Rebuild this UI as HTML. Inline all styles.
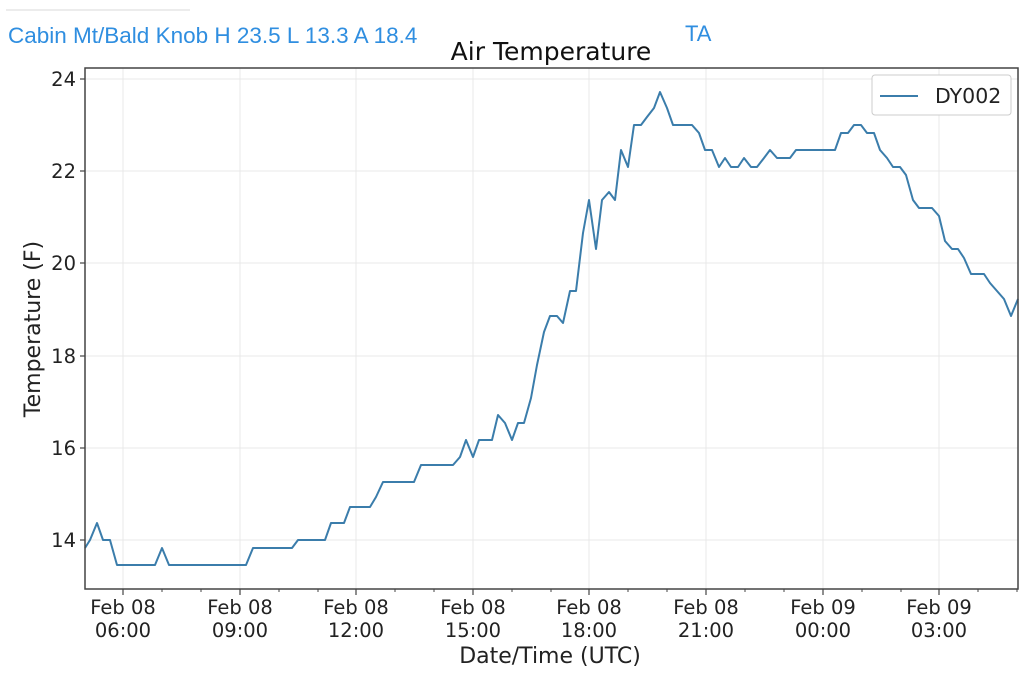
<!DOCTYPE html>
<html><head><style>
body{margin:0;background:#fff;width:1024px;height:682px;overflow:hidden;font-family:"DejaVu Sans","Liberation Sans",sans-serif}
</style></head><body>
<svg width="1024" height="682" xmlns="http://www.w3.org/2000/svg" font-family="DejaVu Sans, Liberation Sans, sans-serif">
<line x1="6" y1="10" x2="190" y2="10" stroke="#e6e6e6" stroke-width="1.5"/>
<text x="8" y="43" font-size="22.5" fill="#2f8ee0" font-family="Liberation Sans, sans-serif">Cabin Mt/Bald Knob H 23.5 L 13.3 A 18.4</text>
<text x="685" y="41" font-size="22" fill="#2f8ee0" font-family="Liberation Sans, sans-serif">TA</text>
<text x="551" y="60" font-size="25" text-anchor="middle" fill="#111">Air Temperature</text>
<g stroke="#e8e8e8" stroke-width="1">
<line x1="85" y1="79" x2="1018" y2="79"/><line x1="85" y1="171" x2="1018" y2="171"/><line x1="85" y1="263" x2="1018" y2="263"/><line x1="85" y1="356" x2="1018" y2="356"/><line x1="85" y1="448" x2="1018" y2="448"/><line x1="85" y1="540" x2="1018" y2="540"/>
<line x1="123" y1="68" x2="123" y2="589"/><line x1="240" y1="68" x2="240" y2="589"/><line x1="356" y1="68" x2="356" y2="589"/><line x1="473" y1="68" x2="473" y2="589"/><line x1="589" y1="68" x2="589" y2="589"/><line x1="706" y1="68" x2="706" y2="589"/><line x1="823" y1="68" x2="823" y2="589"/><line x1="939" y1="68" x2="939" y2="589"/>
</g>
<polyline fill="none" stroke="#3b7dab" stroke-width="2" stroke-linejoin="round" points="85,548 90,540 97,523 103,540 110,540 117,565 155,565 162,548 169,565 246,565 253,548 292,548 298,540 325,540 331,523 344,523 350,507 370,507 376,497 383,482 414,482 421,465 453,465 460,457 466,440 473,457 479,440 492,440 498,415 505,423 512,440 518,423 524,423 531,398 537,365 544,332 550,316 557,316 563,323 570,291 576,291 583,233 589,200 596,249 602,200 609,192 615,200 621,150 628,167 634,125 641,125 647,117 654,108 660,92 667,108 673,125 692,125 699,133 705,150 712,150 719,167 725,158 731,167 738,167 744,158 751,167 757,167 764,158 770,150 777,158 790,158 796,150 835,150 841,133 848,133 854,125 861,125 867,133 874,133 880,150 887,158 893,167 900,167 906,175 913,200 919,208 932,208 939,216 945,241 952,249 958,249 964,258 971,274 984,274 990,283 997,291 1004,299 1011,316 1018,299"/>
<rect x="85" y="68" width="933" height="521" fill="none" stroke="#444" stroke-width="1.5"/>
<g stroke="#444" stroke-width="1.2">
<line x1="80" y1="79" x2="85" y2="79"/><line x1="80" y1="171" x2="85" y2="171"/><line x1="80" y1="263" x2="85" y2="263"/><line x1="80" y1="356" x2="85" y2="356"/><line x1="80" y1="448" x2="85" y2="448"/><line x1="80" y1="540" x2="85" y2="540"/>
<line x1="123" y1="589" x2="123" y2="595"/><line x1="240" y1="589" x2="240" y2="595"/><line x1="356" y1="589" x2="356" y2="595"/><line x1="473" y1="589" x2="473" y2="595"/><line x1="589" y1="589" x2="589" y2="595"/><line x1="706" y1="589" x2="706" y2="595"/><line x1="823" y1="589" x2="823" y2="595"/><line x1="939" y1="589" x2="939" y2="595"/>
</g>
<g stroke="#444" stroke-width="1">
<line x1="162" y1="589" x2="162" y2="592"/><line x1="201" y1="589" x2="201" y2="592"/><line x1="279" y1="589" x2="279" y2="592"/><line x1="318" y1="589" x2="318" y2="592"/><line x1="395" y1="589" x2="395" y2="592"/><line x1="434" y1="589" x2="434" y2="592"/><line x1="512" y1="589" x2="512" y2="592"/><line x1="551" y1="589" x2="551" y2="592"/><line x1="628" y1="589" x2="628" y2="592"/><line x1="667" y1="589" x2="667" y2="592"/><line x1="745" y1="589" x2="745" y2="592"/><line x1="784" y1="589" x2="784" y2="592"/><line x1="862" y1="589" x2="862" y2="592"/><line x1="901" y1="589" x2="901" y2="592"/><line x1="978" y1="589" x2="978" y2="592"/><line x1="1017" y1="589" x2="1017" y2="592"/>
</g>
<g font-size="19.5" fill="#222" text-anchor="end">
<text x="76" y="86">24</text><text x="76" y="178">22</text><text x="76" y="270">20</text><text x="76" y="363">18</text><text x="76" y="455">16</text><text x="76" y="547">14</text>
</g>
<g font-size="19.5" fill="#222" text-anchor="middle">
<text x="123" y="614">Feb 08</text><text x="123" y="637">06:00</text>
<text x="240" y="614">Feb 08</text><text x="240" y="637">09:00</text>
<text x="356" y="614">Feb 08</text><text x="356" y="637">12:00</text>
<text x="473" y="614">Feb 08</text><text x="473" y="637">15:00</text>
<text x="589" y="614">Feb 08</text><text x="589" y="637">18:00</text>
<text x="706" y="614">Feb 08</text><text x="706" y="637">21:00</text>
<text x="823" y="614">Feb 09</text><text x="823" y="637">00:00</text>
<text x="939" y="614">Feb 09</text><text x="939" y="637">03:00</text>
</g>
<text x="550" y="663" font-size="22" text-anchor="middle" fill="#222">Date/Time (UTC)</text>
<text transform="translate(40,329) rotate(-90)" font-size="22" text-anchor="middle" fill="#222">Temperature (F)</text>
<rect x="872" y="75" width="139" height="40" rx="3" fill="#fff" stroke="#ccc"/>
<line x1="880" y1="96" x2="918" y2="96" stroke="#3b7dab" stroke-width="2"/>
<text x="935" y="103" font-size="20.5" fill="#222">DY002</text>
</svg>
</body></html>
